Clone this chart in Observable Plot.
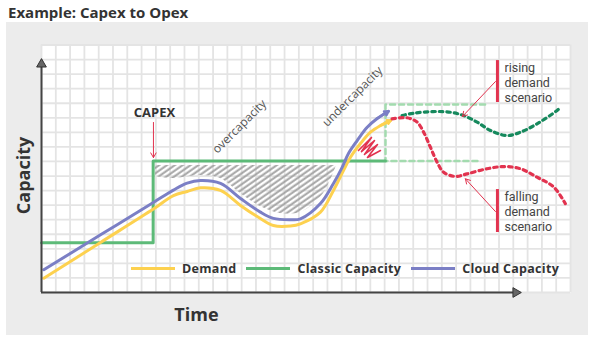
<!DOCTYPE html>
<html>
<head>
<meta charset="utf-8">
<script src="https://cdn.jsdelivr.net/npm/d3@7"></script>
<script src="https://cdn.jsdelivr.net/npm/@observablehq/plot@0.6"></script>
<style>
  body { margin: 0; background: #fff; font-family: "Open Sans", sans-serif; }
  #title { height: 22px; line-height: 25px; padding-left: 8px; font-size: 15px; font-weight: 700; color: #333; white-space: nowrap; }
  #wrap { position: relative; width: 600px; height: 330px; }
  #panel { position: absolute; left: 6px; top: 0; width: 582px; height: 313px; background: #ececec; }
  #chart { position: absolute; left: 0; top: 0; }
  #legend { position: absolute; left: 131px; top: 238px; height: 16px; display: flex; align-items: center; font-size: 12.5px; letter-spacing: 0.3px; font-weight: 700; color: #333; white-space: nowrap; }
  .sw { width: 44px; height: 3px; margin-right: 7px; }
  .lab { margin-right: 10px; }
</style>
</head>
<body>
<div id="title">Example: Capex to Opex</div>
<div id="wrap"><div id="panel"></div><div id="chart"></div><div id="legend"></div></div>
<script>
// ---- data (grid units: time 0..37, capacity 0..17) ----
const seriesNames = ["Demand", "Classic Capacity", "Cloud Capacity"];
const seriesColors = ["#fdd14f", "#5dba78", "#7b7fc5"];

const demandT = [0.16, 4.13, 7.85, 9.23, 10.19, 11.12, 12.52, 13.92, 15.31, 16.22, 17.41, 18.11, 19.51, 20.42, 21.12, 21.61, 22.31, 23.01, 23.71, 24.41];
const demandV = [0.98, 3.44, 5.75, 6.66, 6.94, 7.19, 7.01, 5.98, 5.08, 4.60, 4.57, 4.72, 5.52, 7.01, 8.38, 9.29, 10.23, 11.01, 11.47, 11.81];

const cloudT = [0.16, 4.13, 7.85, 9.23, 10.19, 11.12, 12.52, 13.92, 15.31, 16.22, 17.41, 18.11, 19.51, 20.42, 21.03, 21.47, 22.08, 22.78, 23.48, 24.27];
const cloudV = [1.56, 3.96, 6.20, 7.03, 7.51, 7.69, 7.49, 6.46, 5.52, 5.09, 5.00, 5.06, 6.11, 7.49, 8.60, 9.55, 10.44, 11.35, 11.95, 12.45];

const classicT = [0, 7.81, 7.81, 24.06];
const classicV = [3.41, 3.41, 9.03, 9.03];

const plannedT = [30.49, 24.06, 24.06, 31.12];
const plannedV = [9.03, 9.03, 12.91, 12.91];

const risingT = [25.22, 26.01, 27.41, 28.60, 29.51, 30.47, 31.40, 32.57, 33.50, 34.66, 36.06, 36.29];
const risingV = [12.16, 12.31, 12.43, 12.38, 12.16, 11.70, 11.13, 10.78, 11.01, 11.59, 12.50, 12.71];

const fallingT = [24.52, 25.57, 26.27, 26.73, 27.20, 27.67, 28.13, 28.95, 29.77, 31.17, 32.33, 33.50, 34.66, 35.83, 36.64];
const fallingV = [11.93, 12.00, 11.70, 11.01, 9.98, 8.95, 8.26, 7.97, 8.15, 8.50, 8.65, 8.50, 7.92, 7.24, 6.10];

// over-capacity hatched region (lower edge / upper edge)
const hatchT = [7.97, 9.23, 11.12, 12.52, 13.92, 15.31, 16.71, 18.11, 19.51, 20.21, 20.63];
const hatchLo = [7.97, 7.83, 8.04, 7.83, 6.80, 5.91, 5.43, 5.49, 6.52, 7.69, 8.72];
const hatchHi = [8.72, 8.72, 8.72, 8.72, 8.72, 8.72, 8.72, 8.72, 8.72, 8.72, 8.72];

// under-capacity scribble
const scribbleT = [22.17, 23.08, 22.38, 23.29, 22.59, 23.50, 22.80, 23.71];
const scribbleV = [9.75, 10.65, 9.68, 10.44, 9.48, 10.16, 9.27, 9.75];

// annotations
const noteTexts = ["CAPEX", "overcapacity", "undercapacity"];
const noteT = [7.9, 13.85, 21.75];
const noteV = [12.31, 11.4, 13.46];

const scenarioLines = [["rising", "demand", "scenario"], ["falling", "demand", "scenario"]];
const scenarioT = [32.38, 32.38];
const scenarioV = [14.42, 5.56];
const barT = [31.89, 31.89];
const barV1 = [15.93, 7.07];
const barV2 = [13.05, 4.12];

const pointerT1 = [7.83, 31.75, 31.75];
const pointerV1 = [11.68, 14.49, 5.56];
const pointerT2 = [7.83, 29.44, 29.65];
const pointerV2 = [9.27, 12.09, 7.81];

const axisTimeEnd = 33.17;
const axisCapEnd = 15.68;
const gridTicksX = d3.range(0, 38);
const gridTicksY = d3.range(0, 18);

// ---- tables ----
const rows = (T, V) => T.map((t, i) => ({t, v: V[i]}));
const demand = rows(demandT, demandV);
const cloud = rows(cloudT, cloudV);
const classic = rows(classicT, classicV);
const planned = rows(plannedT, plannedV);
const rising = rows(risingT, risingV);
const falling = rows(fallingT, fallingV);
const scribble = rows(scribbleT, scribbleV);
const hatch = hatchT.map((t, i) => ({t, lo: hatchLo[i], hi: hatchHi[i]}));
const notes = noteTexts.map((s, i) => ({s, t: noteT[i], v: noteV[i]}));
const scen = scenarioLines.map((lines, i) => ({lines, t: scenarioT[i], v: scenarioV[i], bt: barT[i], b1: barV1[i], b2: barV2[i]}));
const pointers = pointerT1.map((t, i) => ({x1: t, y1: pointerV1[i], x2: pointerT2[i], y2: pointerV2[i]}));
const tip = (T, V) => [{x1: T[T.length - 2], y1: V[V.length - 2], x2: T[T.length - 1], y2: V[V.length - 1]}];

const red = "#e2334f";
const fontFam = "'Open Sans', sans-serif";
const lineGap = 15;

const chart = Plot.plot({
  width: 600, height: 330,
  marginLeft: 41, marginRight: 30, marginTop: 22.5, marginBottom: 60,
  x: {domain: [0, 37], axis: null},
  y: {domain: [0, 17], axis: null},
  style: {background: "transparent", fontFamily: fontFam, overflow: "visible"},
  marks: [
    Plot.frame({fill: "white", stroke: "none"}),
    Plot.gridX(gridTicksX, {stroke: "#e4e4e4", strokeOpacity: 1, strokeWidth: 1.8}),
    Plot.gridY(gridTicksY, {stroke: "#e4e4e4", strokeOpacity: 1, strokeWidth: 1.8}),
    Plot.areaY(hatch, {x: "t", y1: "lo", y2: "hi", fill: "url(#hatch)", curve: "catmull-rom"}),
    Plot.line(planned, {x: "t", y: "v", stroke: "#a3dbaf", strokeWidth: 2.5, strokeDasharray: "5,4", curve: "linear"}),
    Plot.line(classic, {x: "t", y: "v", stroke: seriesColors[1], strokeWidth: 3, curve: "linear"}),
    Plot.line(demand, {x: "t", y: "v", stroke: seriesColors[0], strokeWidth: 3, curve: "catmull-rom"}),
    Plot.arrow(tip(demandT, demandV), {x1: "x1", y1: "y1", x2: "x2", y2: "y2", stroke: seriesColors[0], strokeWidth: 2.5, headLength: 10}),
    Plot.line(cloud, {x: "t", y: "v", stroke: seriesColors[2], strokeWidth: 3, curve: "catmull-rom"}),
    Plot.arrow(tip(cloudT, cloudV), {x1: "x1", y1: "y1", x2: "x2", y2: "y2", stroke: seriesColors[2], strokeWidth: 2.5, headLength: 10}),
    Plot.line(rising, {x: "t", y: "v", stroke: "#16895d", strokeWidth: 3.2, strokeDasharray: "3.5,4", curve: "catmull-rom"}),
    Plot.line(falling, {x: "t", y: "v", stroke: red, strokeWidth: 3.2, strokeDasharray: "3.5,4", curve: "catmull-rom"}),
    Plot.line(scribble, {x: "t", y: "v", stroke: red, strokeWidth: 1.6, curve: "linear", strokeLinejoin: "round"}),
    Plot.ruleX(scen, {x: "bt", y1: "b1", y2: "b2", stroke: red, strokeWidth: 3}),
    Plot.arrow(pointers, {x1: "x1", y1: "y1", x2: "x2", y2: "y2", stroke: red, strokeWidth: 1, headLength: 8}),
    Plot.text(notes.slice(0, 1), {x: "t", y: "v", text: "s", fontSize: 13, fontWeight: 700, fill: "#333"}),
    Plot.text(notes.slice(1), {x: "t", y: "v", text: "s", fontSize: 12, rotate: -45, fill: "#555"}),
    ...[0, 1, 2].map(k => Plot.text(scen, {x: "t", y: "v", text: d => d.lines[k], dy: (k - 1) * lineGap, fontSize: 12.5, fontFamily: "Roboto, sans-serif", textAnchor: "start", fill: "#444", style: "letter-spacing:0.25px"})),
    // axes
    Plot.ruleX([0], {y1: 0, y2: axisCapEnd, stroke: "#444", strokeWidth: 2}),
    Plot.ruleY([0], {x1: 0, x2: axisTimeEnd, stroke: "#444", strokeWidth: 2}),
    Plot.dot([{x: 0, y: axisCapEnd}], {x: "x", y: "y", symbol: "triangle", r: 3.6, fill: "#666", stroke: "#333", strokeWidth: 1}),
    Plot.dot([{x: axisTimeEnd, y: 0}], {x: "x", y: "y", symbol: "triangle", r: 3.6, rotate: 90, fill: "#666", stroke: "#333", strokeWidth: 1}),
    Plot.text(["Capacity"], {x: -1.19, y: 8.04, text: d => d, rotate: -90, fontSize: 18, fontWeight: 700, fill: "#333"}),
    Plot.text(["Time"], {x: 10.84, y: -1.58, text: d => d, fontSize: 18, fontWeight: 700, fill: "#333"})
  ]
});

const defs = document.createElementNS("http://www.w3.org/2000/svg", "defs");
defs.innerHTML = '<pattern id="hatch" patternUnits="userSpaceOnUse" width="4.5" height="5" patternTransform="rotate(55)"><line x1="1.5" y1="0" x2="1.5" y2="5" stroke="#a3a3a3" stroke-width="2"/></pattern>';
chart.insertBefore(defs, chart.firstChild);
document.getElementById("chart").appendChild(chart);

// legend
const legend = document.getElementById("legend");
seriesNames.forEach((name, i) => {
  const sw = document.createElement("span");
  sw.className = "sw";
  sw.style.background = seriesColors[i];
  const lab = document.createElement("span");
  lab.className = "lab";
  lab.textContent = name;
  legend.appendChild(sw);
  legend.appendChild(lab);
});
</script>
</body>
</html>
